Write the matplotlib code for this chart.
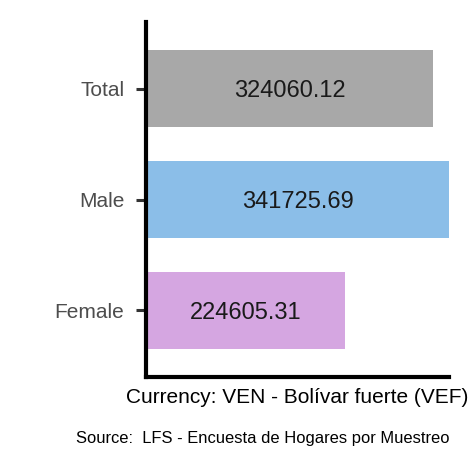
import matplotlib.pyplot as plt

plt.rcParams['font.family'] = ['Liberation Sans', 'DejaVu Sans']

# data
categories = ['Female', 'Male', 'Total']
values = [224605.31, 341725.69, 324060.12]
colors = ['#D5A6E1', '#8BBEE8', '#A8A8A8']

fig = plt.figure(figsize=(4.72, 4.72), dpi=100)
W = H = 472
ax = fig.add_axes([146 / W, (H - 377) / H, (449 - 146) / W, (377 - 22) / H])

pos = [1, 2, 3]
ax.barh(pos, values, height=0.69, color=colors, left=0)
for p, v in zip(pos, values):
    ax.text(v / 2, p, f'{v:.2f}', ha='center', va='center_baseline', fontsize=17, color='#1a1a1a')

ax.set_xlim(0, max(values))
ax.set_ylim(0.4, 3.6)
ax.set_yticks(pos, labels=categories)
ax.set_xticks([])
ax.tick_params(axis='y', length=7.5, width=2.2, color='#333333', labelcolor='#4D4D4D',
               labelsize=15, pad=8)
for s in ('top', 'right'):
    ax.spines[s].set_visible(False)
for s in ('left', 'bottom'):
    ax.spines[s].set_linewidth(3)
    ax.spines[s].set_color('black')
ax.set_xlabel('Currency: VEN - Bolívar fuerte (VEF)', fontsize=15, color='black', labelpad=8)

fig.text(449 / W, 1 - 438 / H, 'Source:  LFS - Encuesta de Hogares por Muestreo',
         ha='right', va='center', fontsize=11.9, color='black')

fig.savefig('out.png', dpi=100)
